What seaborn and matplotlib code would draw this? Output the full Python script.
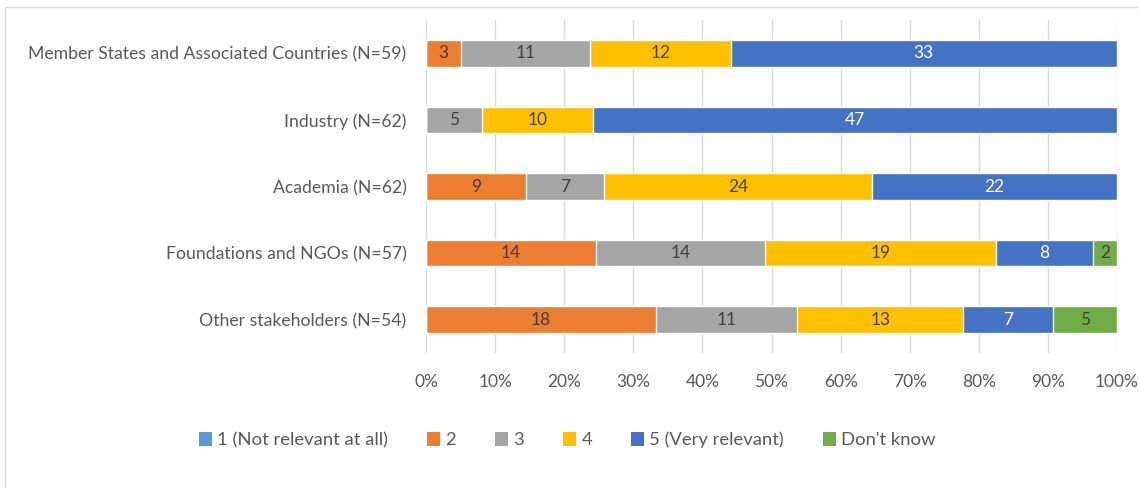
import numpy as np
import pandas as pd
import matplotlib
matplotlib.use("Agg")
import matplotlib.pyplot as plt
from matplotlib.patches import Rectangle, Patch
import seaborn as sns

# Stakeholder groups (top to bottom) and response counts per rating
groups = [
    "Member States and Associated Countries (N=59)",
    "Industry (N=62)",
    "Academia (N=62)",
    "Foundations and NGOs (N=57)",
    "Other stakeholders (N=54)",
]
ratings = ["1 (Not relevant at all)", "2", "3", "4", "5 (Very relevant)", "Don't know"]
r1 = [0, 0, 0, 0, 0]
r2 = [3, 0, 9, 14, 18]
r3 = [11, 5, 7, 14, 11]
r4 = [12, 10, 24, 19, 13]
r5 = [33, 47, 22, 8, 7]
dk = [0, 0, 0, 2, 5]
percent_ticks = ["0%", "10%", "20%", "30%", "40%", "50%", "60%", "70%", "80%", "90%", "100%"]

colors = ["#5B9BD5", "#ED7D31", "#A5A5A5", "#FFC000", "#4472C4", "#70AD47"]
label_colors = ["#404040", "#404040", "#404040", "#404040", "#FFFFFF", "#404040"]

sns.set_theme(style="white")
plt.rcParams["font.family"] = ["Lato", "DejaVu Sans"]

counts = np.array([r1, r2, r3, r4, r5, dk], dtype=float)
totals = counts.sum(axis=0)
shares = counts / totals * 100
cum = np.cumsum(shares, axis=0)

fig = plt.figure(figsize=(11.39, 4.88), dpi=100)
ax = fig.add_axes([426 / 1139, (488 - 353) / 488, (1117 - 426) / 1139, 333 / 488])

# Stacked bars: draw cumulative totals from the outermost segment inward
for k in range(len(ratings) - 1, -1, -1):
    df = pd.DataFrame({"group": groups, "value": cum[k]})
    sns.barplot(data=df, x="value", y="group", orient="h", color=colors[k],
                width=0.4, saturation=1, ax=ax, zorder=3)

# Value labels centred in each segment
for k in range(len(ratings)):
    for i in range(len(groups)):
        if counts[k, i] > 0:
            center = cum[k, i] - shares[k, i] / 2
            ax.text(center, i, f"{int(counts[k, i])}", ha="center", va="center",
                    fontsize=12.5, color=label_colors[k], zorder=5)

ax.set_xlim(0, 100)
ax.set_ylim(len(groups) - 0.5, -0.5)
ax.set_xticks(np.arange(0, 101, 10))
ax.set_xticklabels(percent_ticks)
ax.set_xlabel("")
ax.set_ylabel("")
ax.grid(axis="x", color="#D9D9D9", linewidth=1, zorder=0)
ax.grid(axis="y", visible=False)
ax.set_axisbelow(True)
for s in ax.spines.values():
    s.set_visible(False)
ax.tick_params(axis="both", length=0, colors="#595959")
ax.tick_params(axis="x", pad=15, labelsize=12.5)
ax.tick_params(axis="y", pad=14, labelsize=12.7)

handles = [Patch(facecolor=c, edgecolor="none") for c in colors]
fig.legend(handles, ratings, loc="center", bbox_to_anchor=(0.498, 0.098), ncol=6,
           frameon=False, fontsize=13.3, handlelength=0.7, handleheight=0.8,
           handletextpad=0.3, columnspacing=2.1, labelcolor="#595959")

# Chart frame
fig.patches.append(Rectangle((5 / 1139, -0.2), 1.5, 1.2 - 7 / 488, transform=fig.transFigure,
                             fill=False, edgecolor="#D9D9D9", linewidth=1))

fig.savefig("out.png", dpi=100)
